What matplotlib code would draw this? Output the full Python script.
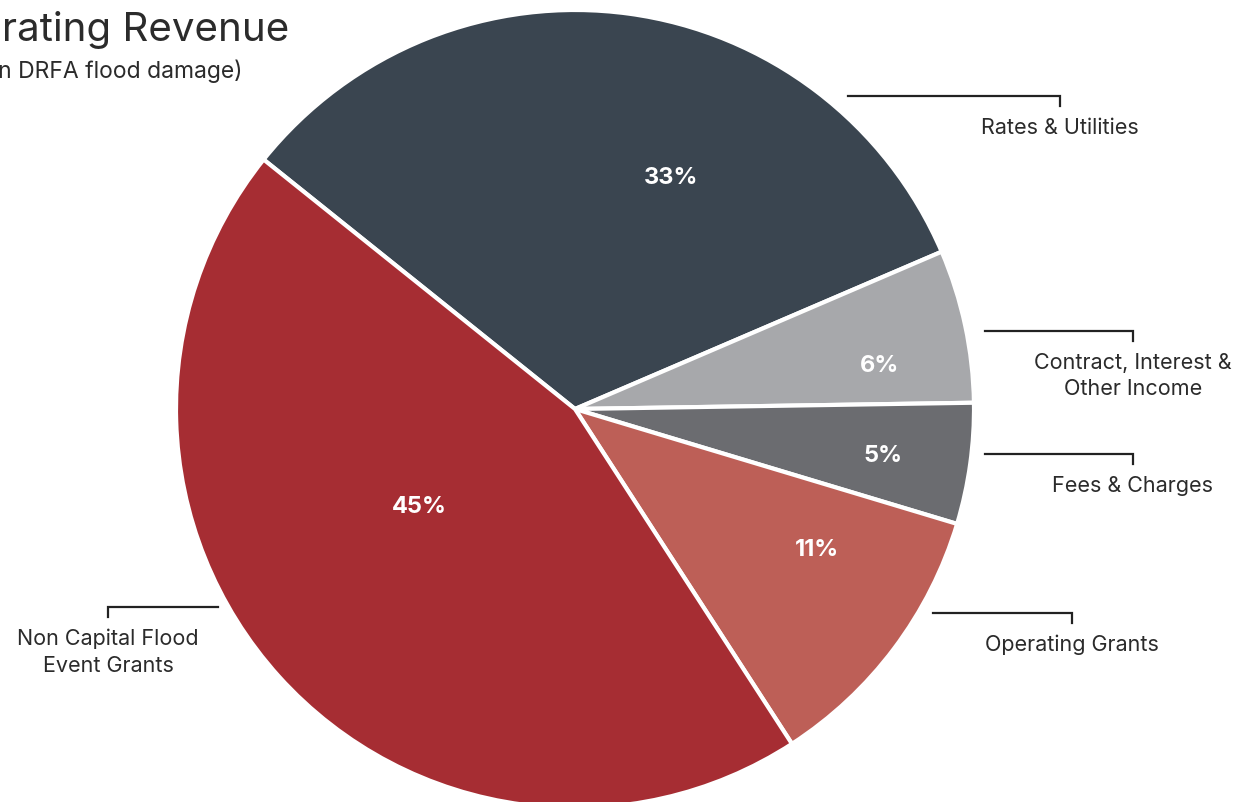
import matplotlib.pyplot as plt
import numpy as np

plt.rcParams['font.family'] = ['Inter', 'DejaVu Sans']

# slice data (percent of operating revenue), clockwise from the top-left edge
categories = ['Rates & Utilities', 'Contract, Interest &\nOther Income', 'Fees & Charges',
              'Operating Grants', 'Non Capital Flood\nEvent Grants']
shares = [32.8, 6.2, 4.9, 11.2, 44.9]
colors = ['#3a4550', '#a7a8ab', '#6b6c70', '#bd5f57', '#a62d33']

W, H = 1259, 803
fig = plt.figure(figsize=(W / 100, H / 100), dpi=100)
ax = fig.add_axes([0, 0, 1, 1])


def py(y):
    # pixel row (from top) to data y
    return H - y


cx, cy, R = 575, py(410), 399
wedges, texts, autotexts = ax.pie(
    shares, colors=colors, startangle=141.3, counterclock=False,
    center=(cx, cy), radius=R, autopct='%.0f%%', frame=True,
    wedgeprops=dict(edgecolor='white', linewidth=3),
    textprops=dict(color='white', fontsize=17, fontweight='bold'))
ax.set_xlim(0, W)
ax.set_ylim(0, H)
ax.set_aspect('equal')
ax.axis('off')

# percent label placement (fraction of radius, angle in degrees)
pct_pos = [(0.63, 67.6), (0.77, 8.2), (0.78, -8.5), (0.70, -30), (0.46, 212)]
for t, (rf, ang) in zip(autotexts, pct_pos):
    a = np.radians(ang)
    t.set_position((cx + rf * R * np.cos(a), cy + rf * R * np.sin(a)))
    t.set_ha('center')
    t.set_va('center')

# outer labels with bracket leaders: (line start x, tick x, line y)
leaders = [(848, 1060, 97), (985, 1133, 332), (985, 1133, 455),
           (933, 1072, 614), (218, 108, 608)]
for name, (x0, x1, y) in zip(categories, leaders):
    ax.plot([x0, x1, x1], [py(y), py(y), py(y + 10)], color='#222222',
            lw=1.6, solid_joinstyle='miter')
    ax.text(x1, py(y + 21), name, ha='center', va='top', fontsize=15.5,
            color='#2b2b2b', linespacing=1.4)

ax.text(289, py(30), 'Operating Revenue', ha='right', va='center',
        fontsize=29, color='#2b2b2b')
ax.text(242, py(71), '(Increase in DRFA flood damage)', ha='right', va='center',
        fontsize=16.5, color='#2b2b2b')

fig.savefig('out.png', dpi=100)
